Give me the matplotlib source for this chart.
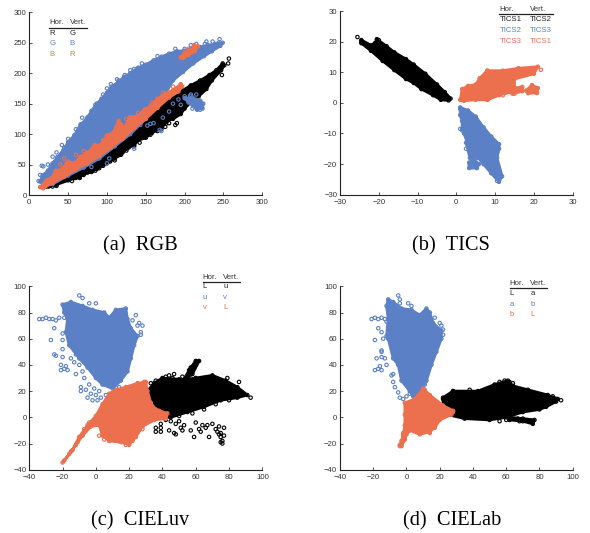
import matplotlib
matplotlib.use('Agg')
import matplotlib.pyplot as plt

BLACK = '#000000'
BLUE = '#5b80c5'
ORANGE = '#ec6f4e'

# outlines of the dense part of each cloud
rgb_black = [(22,14),(40,24),(60,42),(90,72),(120,100),(150,130),(175,158),(190,168),(198,172),(208,180),(220,188),(232,197),(241,205),(249,216),(251,213),(247,205),(235,188),(228,174),(218,162),(210,155),(200,142),(195,133),(185,125),(178,122),(170,110),(158,102),(150,94),(140,90),(135,82),(125,76),(118,66),(110,60),(100,52),(87,43),(80,38),(70,34),(65,30),(50,24),(35,17),(25,14)]
rgb_blue = [(14,22),(17,32),(24,40),(30,52),(36,62),(44,74),(50,87),(58,98),(66,116),(74,125),(80,138),(87,150),(93,158),(100,168),(106,178),(115,186),(122,194),(130,200),(140,209),(150,214),(160,221),(170,227),(180,232),(190,236),(200,237),(210,241),(220,243),(230,246),(240,248),(249,250),(246,245),(235,236),(225,228),(211,216),(198,202),(185,188),(175,166),(160,148),(150,125),(130,100),(110,80),(90,60),(70,45),(50,32),(30,18),(18,18)]
rgb_orange = [(14,13),(22,24),(28,27),(34,40),(42,42),(50,55),(58,52),(66,63),(75,69),(84,82),(92,82),(100,98),(108,102),(115,122),(122,110),(130,128),(140,130),(148,140),(156,146),(165,158),(175,167),(185,172),(195,182),(197,178),(192,170),(180,160),(165,143),(150,125),(135,110),(120,92),(105,78),(90,64),(75,52),(60,42),(45,30),(30,20),(18,11)]
rgb_orange2 = [(195,226),(200,234),(205,237),(210,240),(212,246),(217,244),(213,236),(205,230),(198,225)]
rgb_blue2 = [(200,159),(210,160),(220,155),(224,150),(223,142),(216,140),(211,146),(205,152)]
rgb_black_pts = [(257,224),(256,216),(248,197),(245,205),(180,118),(190,118),(188,115),(150,102),(165,105),(175,112),(150,100),(145,96),(160,107),(135,80),(120,70),(115,66),(95,48),(80,38),(75,37),(70,33),(60,28),(52,30),(45,25),(35,15),(30,14),(125,73),(128,78),(110,57),(104,55),(90,44),(85,40),(65,28),(55,23),(170,108),(176,117),(156,99),(142,86)]
rgb_blue_pts = [(18,47),(16,48),(12,23),(14,33),(30,63),(38,58),(45,78),(50,92),(55,90),(68,127),(75,128),(100,175),(113,190),(115,188),(123,197),(130,205),(135,207),(200,240),(208,246),(226,248),(236,252),(245,256),(244,250),(228,252),(205,155),(215,165),(208,165),(200,162),(192,157),(195,148),(210,142),(218,148),(220,140),(222,147),(207,163),(180,137),(172,127),(160,118),(156,117),(143,115),(170,105),(168,107),(100,52),(135,76),(103,60),(80,46),(152,114),(185,150),(24,50),(35,70),(42,82),(60,108),(85,148),(95,165),(105,182),(145,216),(165,228),(188,240),(215,248)]
rgb_orange_pts = [(16,13),(20,18),(25,25),(40,50),(55,52),(60,66),(83,75),(110,104),(118,115),(125,125),(140,135),(158,152),(172,168),(185,178),(45,60),(48,52),(35,36),(70,72),(95,90),(130,125),(205,240),(212,242)]

tics_black = [(-24.5,20.5),(-22,18.8),(-21,19.5),(-20.5,20.8),(-18,18.5),(-16,16.5),(-13,14.3),(-11,12.5),(-8,9.5),(-5,6),(-3,3.5),(-1.5,1.4),(-2,0.8),(-4,1),(-6,2.5),(-9,4.5),(-11,6.5),(-13,7.8),(-16,10.7),(-19,13.7),(-22,17),(-24.5,19.5)]
tics_blue = [(1,-1.5),(3,-2.5),(5,-4.5),(7,-8),(9,-11),(11,-13.5),(11,-15),(10.5,-18),(11.8,-24),(11,-25.8),(9,-23),(7,-20),(5,-17),(3,-13.5),(1.5,-8.5),(1.5,-6),(1,-4)]
tics_orange = [(1,1),(1.5,4.5),(3,5.5),(5,6),(6,8),(8,10.5),(12,10.5),(16,11.3),(21,11.8),(20,9.5),(15,7.8),(15,5),(14,3.5),(11,2.5),(8,1),(5,1),(2,0.7)]
tics_orange2 = [(14.5,3),(15,4.8),(17,5.2),(17,3.8)]
tics_orange3 = [(18,4),(19.5,5.8),(21,4.8),(20.8,3.2),(18.5,3.2)]
tics_blue2 = [(2.5,-13),(5,-13),(5.5,-18),(3.5,-18)]
tics_blue3 = [(3.3,-19.5),(4.5,-18.5),(5.8,-20),(5.3,-21.3),(3.3,-21.3)]
tics_black_pts = [(-25.5,21.5),(-24.5,20),(-24,19.5),(-21,19),(-20,20.5)]
tics_blue_pts = [(1,-8.5),(1.5,-9),(2,-10),(3,-11),(3,-12.5),(2.5,-15),(3.5,-16),(4,-17),(3.5,-20.5),(5,-19.5),(10.5,-25.5),(1,-2)]
tics_orange_pts = [(21.8,10.8),(1.5,0.9),(4.5,1.5),(8,1),(8.5,1.8),(12,2.5),(13,5.5),(15,3),(19,3.5),(20.5,3.5),(8,10.5),(7.5,9.5)]

luv_black = [(31,20),(35,26),(40,30),(50,29),(55,29),(60,30),(70,32),(78,28),(85,23),(91,17),(85,15),(75,13),(65,8),(55,4),(45,0),(38,0),(32,10)]
luv_black2 = [(52,27),(57,38),(60,43),(62,43),(58,33)]
luv_blue = [(-20,86),(-15,88),(-8,85),(-2,82),(5,80),(8,76),(12,82),(18,83),(19,75),(21,68),(25,62),(23,55),(21,45),(19,35),(15,28),(10,22),(4,25),(0,30),(-5,38),(-10,45),(-16,55),(-18,65),(-17,75),(-19,80)]
luv_orange = [(-20,-34.5),(-14,-25),(-10,-15),(-5,-6),(0,1),(4,10),(8,18),(12,21),(18,23),(25,26),(30,27),(31,20),(33,11),(36,6),(43,3),(42,-1),(35,-2),(28,-7),(24,-15),(20,-21),(15,-19),(8,-18),(4,-14),(2,-6),(-3,-7),(-8,-14),(-12,-21),(-16,-28)]
luv_black_pts = [(93,15),(86,27),(79,30),(44,32),(46,30),(52,31),(40,28),(33,26),(36,-8),(36,-11),(39,-11),(39,-5),(39,-8),(44,-10),(47,-12),(48,-13),(45,-3),(48,-5),(50,-3),(51,-8),(52,-10),(53,-6),(57,-10),(59,-15),(60,-4),(62,-9),(63,-11),(64,-6),(66,-8),(67,-6),(68,-15),(70,-5),(72,-9),(73,-11),(74,-7),(75,-12),(75,-15),(76,-18),(76,-20),(75,-19),(77,-14),(77,-8),(74,-13),(60,10),(55,6),(42,-2),(50,1),(58,3),(65,6),(72,10),(80,13),(36,28),(42,31),(47,33),(56,36),(60,40)]
luv_blue_pts = [(-34,75),(-32,75),(-30,76),(-28,75),(-26,75),(-24,74),(-22,76),(-19,76),(-16,73),(-25,68),(-27,59),(-25,48),(-24,47),(-20,46),(-20,52),(-20,59),(-20,64),(-21,36),(-19,37),(-18,39),(-21,40),(-17,36),(-10,93),(-8,91),(-4,87),(0,87),(-6,83),(24,78),(26,72),(28,70),(27,65),(27,63),(25,70),(22,74),(-9,23),(-9,20),(-6,21),(-5,15),(-2,13),(0,17),(1,13),(3,15),(-12,33),(11,24),(14,23),(6,17),(-15,45),(-13,42),(-10,40),(-8,35),(-12,48),(-7,30),(-4,25),(-1,22),(2,20),(-3,18)]
luv_orange_pts = [(-19,-33),(-15,-26),(-11,-19),(-7,-9),(-4,-4),(29,27),(38,5),(40,2),(42,1),(36,-1),(28,-9),(2,-14),(5,-17),(18,-21),(22,-18)]

lab_black = [(22,15),(28,20),(43,20),(53,25),(61,28),(64,24),(73,21),(85,17),(91,14),(90,12),(84,8),(80,6),(70,4),(60,0),(50,-2),(35,-1),(25,2),(22,8)]
lab_black2 = [(62,0),(70,-1),(77,-2),(76,-5),(70,-3),(62,-2)]
lab_blue = [(-11,90),(-8,88),(-3,83),(3,82),(8,78),(12,83),(14,80),(16,72),(21,66),(21,60),(18,50),(15,40),(12,28),(9,21),(4,16),(2,20),(-3,28),(-5,40),(-8,45),(-11,60),(-12,62),(-11,75),(-12,85)]
lab_orange = [(-4,-22),(-2,-14),(-1,-6),(-1,2),(-1,11),(5,14),(10,22),(14,17),(22,9),(28,5),(27,2),(20,-2),(17,-8),(14,-11),(8,-13),(2,-10),(0,-13),(-1,-17),(-3,-22)]
lab_black_pts = [(93,13),(90,14),(88,16),(56,27),(59,28),(62,27),(64,26),(22,14),(24,13),(27,10),(22,5),(23,4),(26,5),(60,-2),(56,-3),(68,-3),(67,-1),(47,20),(38,21),(28,20)]
lab_blue_pts = [(-21,75),(-19,76),(-17,75),(-15,76),(-13,75),(-12,73),(-17,68),(-15,65),(-14,60),(-19,59),(-15,51),(-15,46),(-18,45),(-19,36),(-17,37),(-16,39),(-15,36),(-13,45),(-12,40),(-15,50),(-5,93),(-4,90),(-4,87),(1,87),(3,85),(22,67),(21,70),(20,72),(17,76),(22,63),(-9,32),(-8,33),(-8,27),(-7,23),(-5,19),(-4,15),(-2,14),(0,16),(2,18),(5,15),(7,17),(11,25)]
lab_orange_pts = [(-4,-21),(-3,-18),(-2,-12),(20,7),(25,6),(28,4),(24,2),(14,-12),(9,19),(11,21)]

# tick labels
rgb_ticks = [0, 50, 100, 150, 200, 250, 300]
tics_ticks = [-30, -20, -10, 0, 10, 20, 30]
lab_xticks = [-40, -20, 0, 20, 40, 60, 80, 100]
lab_yticks = [-40, -20, 0, 20, 40, 60, 80, 100]

# legend text
rgb_legend = [('R', 'G'), ('G', 'B'), ('B', 'R')]
tics_legend = [('TICS1', 'TICS2'), ('TICS2', 'TICS3'), ('TICS3', 'TICS1')]
luv_legend = [('L', 'u'), ('u', 'v'), ('v', 'L')]
lab_legend = [('L', 'a'), ('a', 'b'), ('b', 'L')]

plt.rcParams['font.family'] = ['Liberation Sans', 'DejaVu Sans']
W, H = 590, 533
fig = plt.figure(figsize=(W / 100, H / 100), dpi=100)


def make_axes(x0, x1, ytop, ybot, xlim, ylim, xticks, yticks):
    ax = fig.add_axes([x0 / W, (H - ybot) / H, (x1 - x0) / W, (ybot - ytop) / H])
    ax.set_xlim(xlim)
    ax.set_ylim(ylim)
    ax.set_xticks(xticks)
    ax.set_yticks(yticks)
    ax.spines['top'].set_visible(False)
    ax.spines['right'].set_visible(False)
    for s in ['left', 'bottom']:
        ax.spines[s].set_linewidth(0.8)
        ax.spines[s].set_color('#222222')
    ax.tick_params(direction='in', length=2, width=0.6, labelsize=5.6, colors='#333333')
    ax.tick_params(axis='x', pad=3)
    ax.tick_params(axis='y', pad=2)
    return ax


def cloud(ax, outlines, pts, color, z):
    # dense part as filled outline, edge and loose points as open circles
    for o in outlines:
        ax.fill([p[0] for p in o], [p[1] for p in o], color=color, lw=2.0, zorder=z, joinstyle='round')
        ax.scatter([p[0] for p in o], [p[1] for p in o], s=6, facecolors='none', edgecolors=color, linewidths=0.8, zorder=z)
    ax.scatter([p[0] for p in pts], [p[1] for p in pts], s=6, facecolors='none', edgecolors=color, linewidths=0.8, zorder=z, clip_on=False)


def legend(ax, xh, xv, yh, rows, yline, xend):
    ax.text(xh, yh, 'Hor.', fontsize=5.6, color='#333333', va='center', clip_on=False)
    ax.text(xv, yh, 'Vert.', fontsize=5.6, color='#333333', va='center', clip_on=False)
    ax.plot([xh, xend], [yline, yline], color='#222222', lw=0.9, clip_on=False, zorder=5)
    for (a, b), y, c in zip(rows[0], rows[1], ['#222222', BLUE, ORANGE]):
        ax.text(xh, y, a, fontsize=5.6, color=c, va='center', clip_on=False)
        ax.text(xv, y, b, fontsize=5.6, color=c, va='center', clip_on=False)


ax = make_axes(29.3, 262.3, 12.3, 195, (0, 300), (0, 300), rgb_ticks, rgb_ticks)
cloud(ax, [rgb_black], rgb_black_pts, BLACK, 2)
cloud(ax, [rgb_blue, rgb_blue2], rgb_blue_pts, BLUE, 3)
cloud(ax, [rgb_orange, rgb_orange2], rgb_orange_pts, ORANGE, 4)
legend(ax, 26, 52, 283, (rgb_legend, [265.5, 249, 231]), 275, 74)

ax = make_axes(340, 572.7, 11, 194.7, (-30, 30), (-30, 30), tics_ticks, tics_ticks)
cloud(ax, [tics_black], tics_black_pts, BLACK, 2)
cloud(ax, [tics_blue, tics_blue2, tics_blue3], tics_blue_pts, BLUE, 3)
cloud(ax, [tics_orange, tics_orange2, tics_orange3], tics_orange_pts, ORANGE, 4)
legend(ax, 11.1, 19, 30.6, (tics_legend, [27.1, 23.7, 20.1]), 29, 25)

ax = make_axes(29.3, 262.3, 286.3, 469.7, (-40, 100), (-40, 100), lab_xticks, lab_yticks)
cloud(ax, [luv_black, luv_black2], luv_black_pts, BLACK, 2)
cloud(ax, [luv_blue], luv_blue_pts, BLUE, 3)
cloud(ax, [luv_orange], luv_orange_pts, ORANGE, 4)
legend(ax, 64.1, 76.6, 107, (luv_legend, [99.7, 91.6, 83.6]), 103.6, 86.6)

ax = make_axes(340, 572.7, 286.3, 469.7, (-40, 100), (-40, 100), lab_xticks, lab_yticks)
cloud(ax, [lab_black, lab_black2], lab_black_pts, BLACK, 2)
cloud(ax, [lab_blue], lab_blue_pts, BLUE, 3)
cloud(ax, [lab_orange], lab_orange_pts, ORANGE, 4)
legend(ax, 62, 74.5, 102, (lab_legend, [94.4, 86, 78.3]), 98.7, 84.6)

for x, y, s in [(140, 246, '(a)  RGB'), (450.5, 246, '(b)  TICS'), (140, 521, '(c)  CIELuv'), (452, 521, '(d)  CIELab')]:
    fig.text(x / W, 1 - y / H, s, family='Liberation Serif', fontsize=14.7, ha='center', va='center', color='black')

fig.savefig('out.png', dpi=100)
